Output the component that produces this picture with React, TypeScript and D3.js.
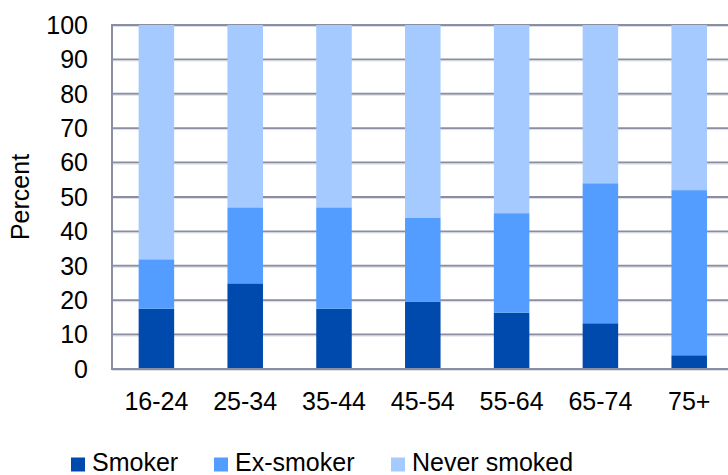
import React from "react";
import * as d3 from "d3";

const categories = ["16-24", "25-34", "35-44", "45-54", "55-64", "65-74", "75+"];
const smoker = [17.5, 24.9, 17.5, 19.5, 16.4, 13.3, 4.0];
const exSmoker = [14.4, 22.1, 29.5, 24.4, 28.9, 40.7, 48.0];
const neverSmoked = [68.1, 53.0, 53.0, 56.1, 54.7, 46.0, 48.0];
const seriesNames = ["Smoker", "Ex-smoker", "Never smoked"];
const yTicks = [0, 10, 20, 30, 40, 50, 60, 70, 80, 90, 100];
const yLabel = "Percent";

const colors = ["#004AAD", "#529DFF", "#A5CAFF"];
const W = 728;
const H = 475;
const left = 112;
const top = 25;
const bottom = 369;
const FONT = "'Liberation Sans', Arial, sans-serif";

export default function App() {
  const rows = categories.map((c, i) => ({
    cat: c,
    Smoker: smoker[i],
    "Ex-smoker": exSmoker[i],
    "Never smoked": neverSmoked[i],
  }));
  const stack = d3.stack<any>().keys(seriesNames)(rows);
  const x = d3
    .scaleBand<string>()
    .domain(categories)
    .range([left, left + 7 * 88.8])
    .paddingInner(0.6)
    .paddingOuter(0.3);
  const y = d3.scaleLinear().domain([0, 100]).range([bottom, top]);
  const grid = "#8A8EA0";

  const legendX = [71, 214, 391];

  return (
    <svg
      width={W}
      height={H}
      style={{ position: "absolute", left: 0, top: 0, background: "#fff" }}
      fontFamily={FONT}
    >
      {yTicks.map((t) => (
        <g key={t}>
          <line x1={left} x2={W} y1={y(t)} y2={y(t)} stroke={grid} strokeWidth={2} />
          <line x1={left} x2={W} y1={y(t) + 1.5} y2={y(t) + 1.5} stroke="#DDDFE8" strokeWidth={1} />
          <text x={88} y={y(t)} dy="0.35em" textAnchor="end" fontSize={25} fill="#000">
            {t}
          </text>
        </g>
      ))}
      <line x1={left} x2={left} y1={top - 1} y2={bottom + 1} stroke={grid} strokeWidth={2} />
      {stack.map((s, si) => (
        <g key={si} fill={colors[si]}>
          {s.map((d, i) => (
            <rect
              key={i}
              x={x(categories[i])}
              width={x.bandwidth()}
              y={y(d[1])}
              height={y(d[0]) - y(d[1])}
            />
          ))}
        </g>
      ))}
      <line x1={left} x2={W} y1={bottom} y2={bottom} stroke={grid} strokeWidth={2} />
      {categories.map((c) => (
        <text
          key={c}
          x={(x(c) as number) + x.bandwidth() / 2}
          y={410}
          textAnchor="middle"
          fontSize={25}
          fill="#000"
        >
          {c}
        </text>
      ))}
      <text
        transform={`translate(29,${(top + bottom) / 2}) rotate(-90)`}
        textAnchor="middle"
        fontSize={25}
        fill="#000"
      >
        {yLabel}
      </text>
      {seriesNames.map((n, i) => (
        <g key={n}>
          <rect x={legendX[i]} y={457.5} width={14} height={14} fill={colors[i]} />
          <text x={legendX[i] + 21} y={471} fontSize={25} fill="#000">
            {n}
          </text>
        </g>
      ))}
    </svg>
  );
}
